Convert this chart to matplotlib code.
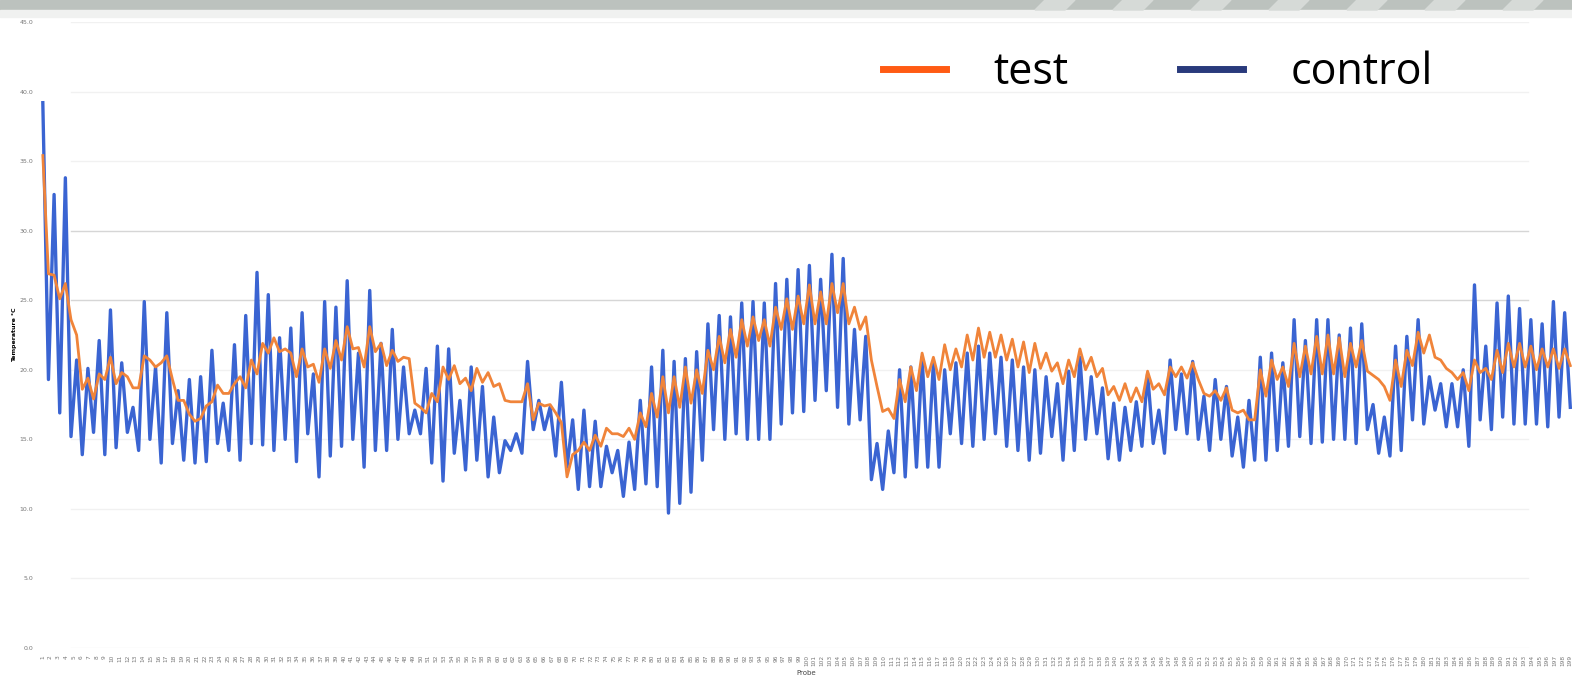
import numpy as np
import matplotlib
matplotlib.use('Agg')
import matplotlib.pyplot as plt
from matplotlib.lines import Line2D
from matplotlib.patches import Rectangle, Polygon

# control (blue) values at each daily peak and the trough after it
control_peaks = [
    39.2, 32.6, 33.8, 20.7, 20.1, 22.1, 24.3, 20.5, 17.3, 24.9,
    20.2, 24.1, 18.5, 19.3, 19.5, 21.4, 17.6, 21.8, 23.9, 27.0,
    25.4, 22.3, 23.0, 24.1, 19.7, 24.9, 24.5, 26.4, 21.2, 25.7,
    21.9, 22.9, 20.2, 17.1, 20.1, 21.7, 21.5, 17.8, 20.2, 18.8,
    16.6, 14.9, 15.4, 20.6, 17.8, 17.3, 19.1, 16.4, 17.1, 16.3,
    14.5, 14.2, 14.8, 17.8, 20.2, 21.4, 20.6, 20.8, 21.3, 23.3,
    23.9, 23.8, 24.8, 24.9, 24.8, 26.2, 26.5, 27.2, 27.5, 26.5,
    28.3, 28.0, 22.9, 22.4, 14.7, 15.6, 20.0, 20.2, 20.9, 20.5,
    20.0, 20.5, 21.2, 21.7, 21.2, 20.9, 20.7, 20.2, 20.0, 19.5,
    19.0, 19.9, 20.9, 19.5, 18.7, 17.6, 17.3, 17.7, 19.7, 17.1,
    20.7, 19.7, 20.6, 18.1, 19.3, 18.8, 16.6, 17.8, 20.9, 21.2,
    20.5, 23.6, 22.1, 23.6, 23.6, 22.5, 23.0, 23.3, 17.5, 16.6,
    21.7, 22.4, 23.6, 19.5, 19.0, 19.0, 20.0, 26.1, 21.7, 24.8,
    25.3, 24.4, 23.6, 23.3, 24.9, 24.1,
]
control_troughs = [
    19.3, 16.9, 15.2, 13.9, 15.5, 13.9, 14.4, 15.5, 14.2, 15.0,
    13.3, 14.7, 13.5, 13.3, 13.4, 14.7, 14.2, 13.5, 14.7, 14.6,
    14.2, 15.0, 13.4, 15.4, 12.3, 13.8, 14.5, 15.0, 13.0, 14.2,
    14.2, 15.0, 15.4, 15.4, 13.3, 12.0, 14.0, 12.8, 13.5, 12.3,
    12.6, 14.2, 14.0, 15.7, 15.7, 13.8, 13.0, 11.4, 11.6, 11.6,
    12.6, 10.9, 11.4, 11.8, 11.6, 9.7, 10.4, 11.2, 13.5, 15.7,
    15.0, 15.4, 15.0, 15.0, 15.0, 16.1, 16.9, 17.0, 17.8, 18.5,
    17.3, 16.1, 16.4, 12.1, 11.4, 12.6, 12.3, 13.0, 13.0, 13.0,
    15.4, 14.7, 14.5, 15.0, 15.4, 14.5, 14.2, 13.5, 14.0, 15.2,
    13.5, 14.2, 15.0, 15.4, 13.6, 13.5, 14.2, 14.5, 14.7, 14.0,
    15.7, 15.4, 15.0, 14.2, 15.0, 13.8, 13.0, 13.5, 13.5, 14.2,
    14.5, 15.2, 14.7, 14.8, 15.0, 15.0, 14.7, 15.7, 14.0, 13.8,
    14.2, 16.4, 16.1, 17.1, 15.9, 15.9, 14.5, 16.4, 15.7, 16.6,
    16.1, 16.1, 16.1, 15.9, 16.6, 17.3,
]
# test (orange) values read at the same positions
test_at_peaks = [
    35.4, 26.8, 26.2, 22.5, 19.4, 19.7, 20.9, 19.8, 18.7, 21.0,
    20.2, 21.0, 17.8, 16.8, 16.5, 17.7, 18.3, 19.0, 18.7, 19.7,
    21.2, 21.3, 21.2, 21.5, 20.4, 21.5, 22.1, 23.1, 21.6, 23.1,
    21.9, 21.4, 20.9, 17.6, 16.9, 17.7, 19.3, 19.0, 18.5, 19.1,
    18.8, 17.8, 17.7, 19.0, 17.6, 17.5, 16.2, 13.9, 14.8, 15.3,
    15.8, 15.4, 15.8, 16.9, 18.3, 19.5, 19.5, 20.2, 20.0, 21.4,
    22.4, 22.9, 23.6, 23.8, 23.6, 24.5, 25.1, 25.3, 26.1, 25.6,
    26.2, 26.2, 24.5, 23.8, 18.8, 17.2, 19.3, 20.2, 21.2, 20.9,
    21.8, 21.5, 22.5, 23.0, 22.7, 22.5, 22.2, 22.0, 21.9, 21.2,
    20.5, 20.7, 21.5, 20.9, 20.1, 18.8, 19.0, 18.7, 19.9, 19.0,
    20.2, 20.2, 20.5, 18.3, 18.5, 18.7, 16.9, 16.4, 20.0, 20.7,
    20.2, 21.9, 21.7, 22.4, 22.5, 22.3, 21.9, 22.1, 19.6, 18.8,
    20.7, 21.4, 22.7, 22.5, 20.7, 19.8, 19.8, 20.7, 20.1, 21.4,
    21.9, 21.9, 21.7, 21.5, 21.5, 21.5,
]
test_at_troughs = [
    26.9, 25.1, 23.6, 18.6, 17.9, 19.3, 19.0, 19.5, 18.7, 20.7,
    20.5, 19.3, 17.8, 16.3, 17.4, 18.9, 18.3, 19.5, 20.7, 21.9,
    22.3, 21.5, 19.5, 20.2, 19.1, 20.1, 20.7, 21.5, 20.2, 21.3,
    20.3, 20.6, 20.8, 17.3, 18.3, 20.2, 20.3, 19.4, 20.1, 19.8,
    19.0, 17.7, 17.7, 16.4, 17.4, 16.9, 12.3, 14.2, 14.2, 14.5,
    15.4, 15.2, 15.0, 15.9, 16.6, 16.9, 17.3, 17.6, 18.3, 20.0,
    20.5, 20.9, 21.7, 22.1, 21.7, 22.9, 22.9, 23.3, 23.3, 23.3,
    24.1, 23.3, 22.9, 20.7, 17.0, 16.5, 17.7, 18.5, 19.5, 19.3,
    20.0, 20.2, 20.7, 20.9, 20.9, 20.7, 20.2, 19.8, 20.1, 19.9,
    19.0, 19.5, 20.0, 19.5, 18.2, 17.8, 17.7, 17.7, 18.6, 18.2,
    19.5, 19.4, 19.3, 18.1, 17.8, 17.1, 17.1, 16.4, 18.1, 19.3,
    18.8, 19.5, 19.7, 19.7, 19.7, 19.5, 20.2, 19.9, 19.3, 17.8,
    18.8, 20.3, 21.2, 20.9, 20.1, 19.3, 18.5, 19.8, 19.3, 19.8,
    20.2, 20.2, 20.0, 20.2, 20.1, 20.3,
]
y_ticks = [0, 5, 10, 15, 20, 25, 30, 35, 40, 45]
probe_labels = [str(n) for n in range(1, 200)]

control = np.column_stack([control_peaks, control_troughs]).ravel()
test = np.column_stack([test_at_peaks, test_at_troughs]).ravel()
x = np.arange(len(control))

W, H = 1572, 698
fig = plt.figure(figsize=(W / 100, H / 100), dpi=100)
ax = fig.add_axes([40 / W, 50 / H, 1532 / W, 626 / H])

ax.plot(x, control, color='#3a64d2', lw=2.4, solid_joinstyle='round')
ax.plot(x, test, color='#f0843a', lw=2.0, solid_joinstyle='round')

ax.set_xlim(-0.5, 271.3)
ax.set_ylim(0, 45)
for s in ax.spines.values():
    s.set_visible(False)

# faint gridlines, the 25/30 ones a bit stronger
for yv in y_ticks:
    c = '#d6d6d6' if yv in (25, 30) else '#f1f1f1'
    ax.axhline(yv, xmin=0.02, xmax=0.971, color=c, lw=1, zorder=0)

ax.set_yticks(y_ticks)
ax.set_yticklabels([f'{v:.1f}' for v in y_ticks], fontsize=4.5, color='#777777')
ax.set_xticks(np.linspace(0, 271, len(probe_labels)))
ax.set_xticklabels(probe_labels, rotation=90, fontsize=4.2, color='#777777')
ax.tick_params(length=0, pad=5)
ax.set_ylabel('Temperature °C', fontsize=4.5, fontweight='bold', labelpad=2)
ax.set_xlabel('Probe', fontsize=5, color='#444444', labelpad=3)

handles = [Line2D([], [], color='#ff5b14', lw=5), Line2D([], [], color='#293a7c', lw=5)]
ax.legend(handles, ['test', 'control'], loc='center left', bbox_to_anchor=(883 / W, 1 - 73 / H),
          bbox_transform=fig.transFigure, ncol=2, frameon=False, prop={'family': 'Open Sans', 'size': 31},
          handlelength=1.46, handletextpad=1.1, columnspacing=2.6, borderpad=0, borderaxespad=0)

# grey slide band at the top with diagonal stripes on the right
fig.patches.append(Rectangle((0, 1 - 10 / H), 1, 10 / H, transform=fig.transFigure,
                             color='#bcc2be', zorder=5))
fig.patches.append(Rectangle((0, 1 - 17 / H), 1, 7 / H, transform=fig.transFigure,
                             color='#f0f1f0', zorder=5))
for x0 in range(1045, 1620, 78):
    pts = [(x0 / W, 1), ((x0 + 30) / W, 1), ((x0 + 20) / W, 1 - 10 / H), ((x0 - 10) / W, 1 - 10 / H)]
    fig.patches.append(Polygon(pts, closed=True, transform=fig.transFigure, color='#d6dad7', zorder=6))

fig.savefig('out.png', dpi=100)
